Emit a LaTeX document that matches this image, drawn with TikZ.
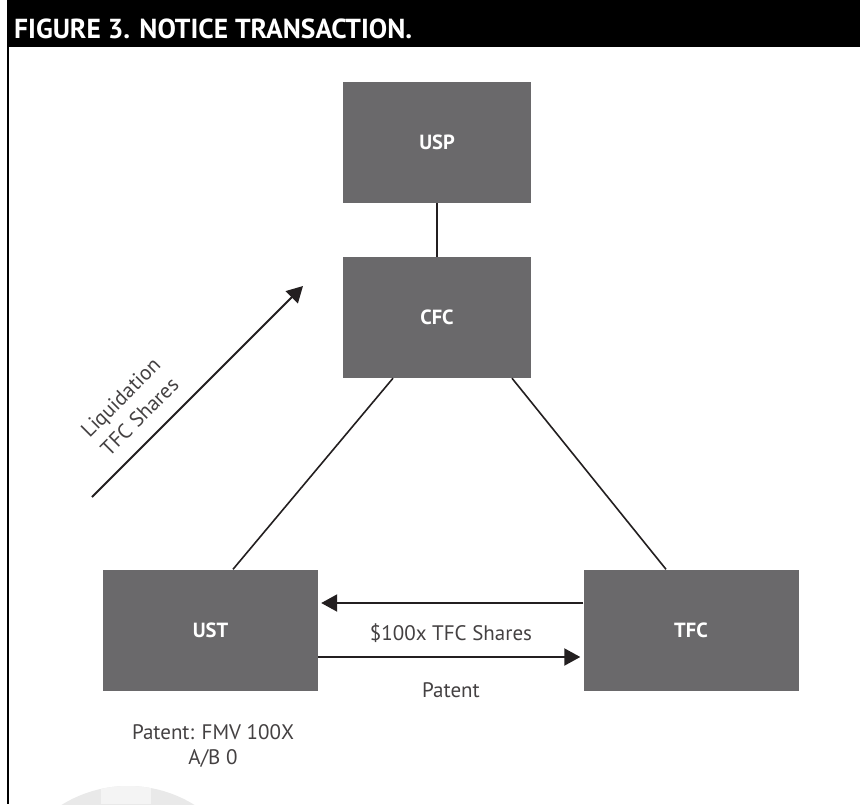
\documentclass[tikz,border=0pt]{standalone}
\usepackage{fontspec}
\setmainfont{PT Sans}
\usetikzlibrary{arrows.meta}
\definecolor{boxgrey}{HTML}{6A696B}
\definecolor{linegrey}{HTML}{231F20}
\tikzset{
  entity/.style={fill=boxgrey, draw=none, minimum width=188pt, minimum height=121pt, inner sep=0pt,
    text=white, font=\fontsize{20.5}{24}\selectfont\bfseries},
  link/.style={draw=linegrey, line width=1.6pt},
  flow/.style={draw=linegrey, line width=2pt, -{Triangle[length=16pt,width=17pt]}},
  lbl/.style={text=linegrey!85, font=\fontsize{21}{25}\selectfont, inner sep=0pt}
}
\begin{document}
\begin{tikzpicture}[x=1pt,y=-1pt]
\useasboundingbox (0,0) rectangle (860,804);
\fill[white] (0,0) rectangle (860,804);
% watermark
\begin{scope}
\clip (0,0) rectangle (860,804);
\fill[gray!17] (128,912) circle (126);
\clip (128,912) circle (126);
\fill[gray!9] (101,780) rectangle (151,804);
\end{scope}
% header
\fill[black] (7,0) rectangle (860,47);
\node[anchor=base west, text=white, font=\fontsize{27.5}{30}\selectfont\bfseries, inner sep=0pt] (title) at (14,38) {FIGURE 3. NOTICE TRANSACTION.};
\draw[black, line width=2pt] (8,47) -- (8,804);
% entities
\node[entity] (usp) at (437,142.5) {USP};
\node[entity] (cfc) at (437,317.5) {CFC};
\node[entity, minimum width=215pt] (ust) at (210.5,630) {UST};
\node[entity, minimum width=215pt] (tfc) at (691,630) {TFC};
% links
\draw[link] (usp.south) -- (cfc.north);
\draw[link] ([xshift=-44pt]cfc.south) -- ([xshift=22.5pt]ust.north);
\draw[link] ([xshift=75pt]cfc.south) -- ([xshift=-25pt]tfc.north);
% flows
\draw[flow, shorten >=3pt] ([yshift=27pt]tfc.west) -- ([yshift=27pt]ust.east);
\draw[flow, shorten >=3pt] ([yshift=-27pt]ust.east) -- ([yshift=-27pt]tfc.west);
\node[lbl] (shares) at (451,633) {\$100x TFC Shares};
\node[lbl] (patent) at (451,690) {Patent};
% liquidation
\coordinate (liqa) at (92,497);
\coordinate (liqb) at (303,286);
\draw[flow] (liqa) -- (liqb);
\node[lbl, rotate=45, align=center, font=\fontsize{21}{27}\selectfont] (liq) at (130,407) {Liquidation\\TFC Shares};
% note
\node[lbl, align=center, font=\fontsize{21}{25}\selectfont] (note) at (213,746) {Patent: FMV 100X\\A/B 0};
\end{tikzpicture}
\end{document}
